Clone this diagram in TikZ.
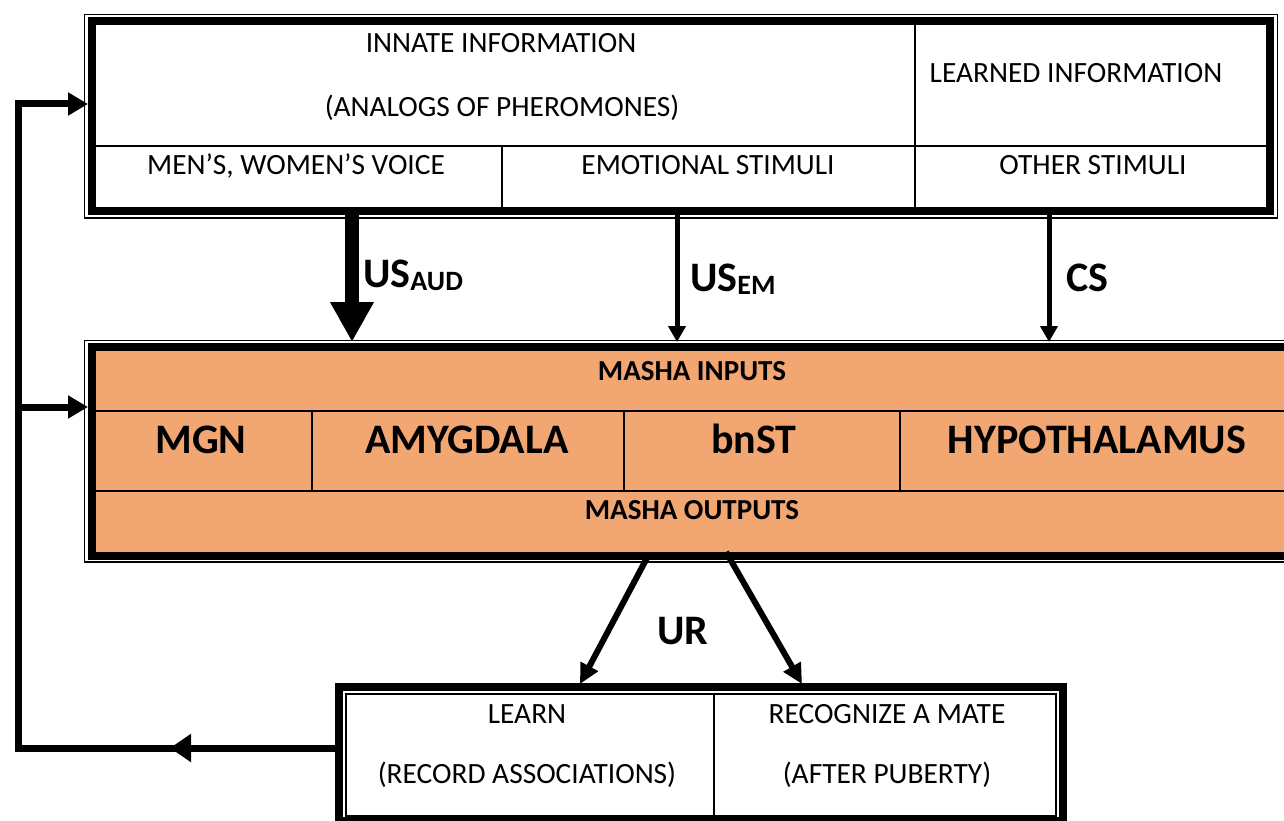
\documentclass[tikz,border=0pt]{standalone}
\usepackage{fontspec}
\setmainfont{Carlito}
\usetikzlibrary{arrows.meta,calc}
\definecolor{masha}{HTML}{F2A672}
\newcommand{\lowsub}[1]{\raisebox{-3pt}{\fontsize{28}{28}\selectfont\bfseries #1}}
\begin{document}
\begin{tikzpicture}[x=1pt,y=-1pt,
  cellline/.style={line width=1.6pt},
  midline/.style={line width=2pt},
  thickbox/.style={draw, line width=8pt, rectangle, inner sep=0pt, outer sep=0pt, anchor=north west},
  thinbox/.style={draw, line width=1.5pt, rectangle, inner sep=0pt, outer sep=0pt, anchor=north west},
  txt/.style={inner sep=0pt, anchor=base, font=\fontsize{29.4}{29.4}\selectfont},
  btxt/.style={inner sep=0pt, anchor=base, font=\fontsize{29}{29}\selectfont\bfseries},
  bigtxt/.style={inner sep=0pt, anchor=base, font=\fontsize{42}{42}\selectfont\bfseries},
  lbl/.style={inner sep=0pt, anchor=base west, font=\fontsize{42}{42}\selectfont\bfseries},
  bigarrow/.style={line width=14pt, -{Triangle[length=40pt,width=41pt]}},
  smallarrow/.style={line width=5pt, -{Triangle[length=16pt,width=17pt]}},
  urarrow/.style={line width=6pt, -{Triangle[length=20pt,width=19pt]}},
  fb/.style={line width=7pt, line join=miter},
  fbarrow/.style={line width=7pt, -{Triangle[length=20pt,width=22pt]}},
  fbhead/.style={line width=7pt, -{Triangle[length=21pt,width=27pt]}}
]
\useasboundingbox (0,0) rectangle (1284,821);

% top box
\node[thinbox, minimum width=1193pt, minimum height=203.5pt] (topout) at (84.5,14.5) {};
\node[thickbox, minimum width=1178pt, minimum height=190pt] (top) at (92,21) {};
\draw[cellline] (96,146) -- (1266,146);
\draw[cellline] (915,25) -- (915,207);
\draw[cellline] (502,146) -- (502,207);

% middle box
\node[thinbox, minimum width=1300pt, minimum height=221.5pt] (midout) at (84.5,340.5) {};
\node[thickbox, fill=masha, minimum width=1250pt, minimum height=209pt] (mid) at (92,347) {};
\draw[midline] (96,411) -- (1300,411);
\draw[midline] (96,491) -- (1300,491);
\draw[midline] (312,411) -- (312,491);
\draw[midline] (624,411) -- (624,491);
\draw[midline] (900,411) -- (900,491);

% bottom box
\node[thickbox, minimum width=723.5pt, minimum height=134pt] (bot) at (339,687) {};
\node[thinbox, minimum width=710pt, minimum height=122pt] (botin) at (346,694) {};
\draw[cellline] (714,694) -- (714,816);

% texts
\node[txt] (innate) at (501,53) {INNATE INFORMATION};
\node[txt] (analogs) at (502,117) {(ANALOGS OF PHEROMONES)};
\node[txt] (learned) at (1076,83) {LEARNED INFORMATION};
\node[txt] (voice) at (296,175) {MEN’S, WOMEN’S VOICE};
\node[txt] (emo) at (708,175) {EMOTIONAL STIMULI};
\node[txt] (other) at (1093,175) {OTHER STIMULI};
\node[btxt] (inputs) at (692,380) {MASHA INPUTS};
\node[bigtxt] (mgn) at (201,453) {MGN};
\node[bigtxt] (amy) at (467,453) {AMYGDALA};
\node[bigtxt] (bnst) at (754,453) {bnST};
\node[bigtxt] (hyp) at (1097,453) {HYPOTHALAMUS};
\node[btxt] (outputs) at (692,519) {MASHA OUTPUTS};
\node[txt] (learn) at (527,723) {LEARN};
\node[txt] (record) at (527,783) {(RECORD ASSOCIATIONS)};
\node[txt] (recog) at (887,723) {RECOGNIZE A MATE};
\node[txt] (after) at (887,783) {(AFTER PUBERTY)};

% labels
\node[lbl] (usaud) at (363,287) {US\lowsub{AUD}};
\node[lbl] (usem) at (690,291) {US\lowsub{EM}};
\node[lbl] (cs) at (1066,291) {CS};
\node[lbl] (ur) at (657,644) {UR};

% arrows top -> middle
\draw[bigarrow] ($(top.south west)+(260,2)$) -- ($(midout.north west)+(267.5,1.5)$);
\draw[smallarrow] ($(top.south west)+(585,2)$) -- ($(midout.north west)+(592.5,1.5)$);
\draw[smallarrow] ($(top.south west)+(957,2)$) -- ($(midout.north west)+(964.5,1.5)$);

% arrows middle -> bottom
\draw[urarrow] ($(mid.south west)+(556,0)$) -- ($(bot.north west)+(241,-3)$);
\draw[urarrow] ($(mid.south west)+(634,-4)$) -- ($(bot.north west)+(463,-3)$);

% feedback loop
\coordinate (fbcorner) at (18,748);
\coordinate (fbtop) at (18,104);
\coordinate (fbmid) at (18,407);
\draw[fb] ($(bot.north west)+(0,61)$) -- (fbcorner) -- (fbtop) -- ($(top.north west)+(-30,83)$);
\draw[fbarrow] ($(top.north west)+(-40,83)$) -- ($(top.north west)+(-4,83)$);
\draw[fbarrow] (fbmid) -- ($(mid.north west)+(-4,60)$);
\draw[fbhead] ($(bot.north west)+(-140,61)$) -- ($(bot.north west)+(-169,61)$);
\end{tikzpicture}
\end{document}
